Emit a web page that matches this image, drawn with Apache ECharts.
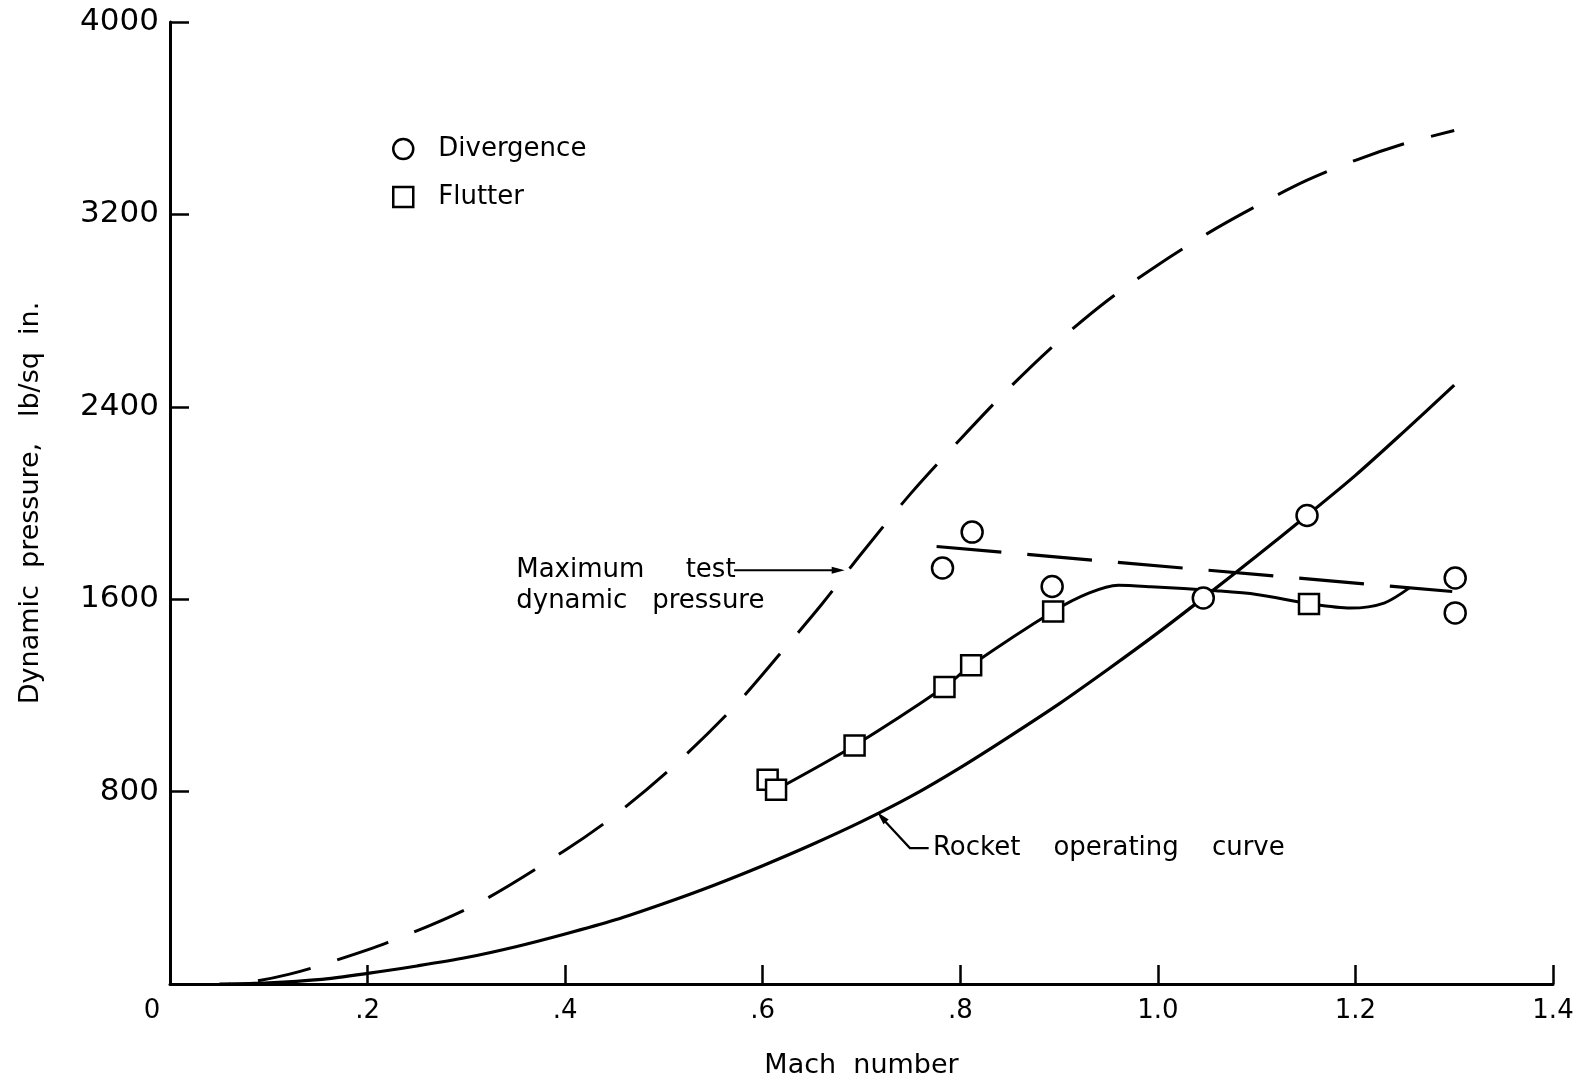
<!DOCTYPE html>
<html><head><meta charset="utf-8">
<script src="https://cdn.jsdelivr.net/npm/echarts@6/dist/echarts.min.js"></script>
<style>html,body{margin:0;padding:0;background:#fff}#c{width:1578px;height:1085px}</style>
</head><body><div id="c"></div>
<script>
// ---- data ----
const xTickLabels = ['0', '.2', '.4', '.6', '.8', '1.0', '1.2', '1.4'];
const yTickLabels = ['', '800', '1600', '2400', '3200', '4000'];

const divergenceMach = [0.782, 0.812, 0.893, 1.046, 1.151, 1.301, 1.301];
const divergenceQ    = [1730, 1879, 1653, 1605, 1948, 1688, 1543];

const flutterMach = [0.605, 0.6135, 0.693, 0.784, 0.811, 0.894, 1.153];
const flutterQ    = [849, 808, 992, 1235, 1325, 1549, 1580];

const maxTestMach = [0.06, 0.086, 0.12, 0.15, 0.22, 0.31, 0.40, 0.45, 0.51, 0.57, 0.62, 0.66, 0.70, 0.75, 0.80, 0.85, 0.90, 0.95, 1.00, 1.05, 1.10, 1.15, 1.20, 1.25, 1.30];
const maxTestQ    = [0, 11, 40, 75, 172, 332, 556, 700, 907, 1148, 1385, 1580, 1790, 2040, 2265, 2480, 2675, 2845, 2990, 3120, 3235, 3340, 3425, 3495, 3549];

const rocketMach = [0.05, 0.1, 0.15, 0.2, 0.25, 0.3, 0.35, 0.4, 0.45, 0.5, 0.55, 0.6, 0.65, 0.7, 0.75, 0.8, 0.85, 0.9, 0.95, 1.0, 1.05, 1.1, 1.15, 1.2, 1.25, 1.3];
const rocketQ    = [0, 5, 18, 44, 75, 110, 155, 208, 266, 335, 410, 492, 580, 675, 780, 900, 1030, 1165, 1310, 1460, 1618, 1780, 1945, 2115, 2300, 2490];

const flutterBoundaryMach = [0.6135, 0.693, 0.784, 0.811, 0.894, 0.93, 0.96, 0.993, 1.059, 1.10, 1.153, 1.195, 1.229, 1.255];
const flutterBoundaryQ    = [808, 992, 1235, 1325, 1549, 1625, 1658, 1652, 1635, 1620, 1582, 1563, 1584, 1648];

const divergenceBoundaryMach = [0.776, 1.298];
const divergenceBoundaryQ    = [1819, 1632];

// ---- chart ----
const FONT = 'DejaVu Sans';
const zip = (a, b) => a.map((v, i) => [v, b[i]]);
const chart = echarts.init(document.getElementById('c'), null, { renderer: 'canvas' });

chart.setOption({
  animation: false,
  backgroundColor: '#fff',
  grid: { left: 170, right: 25, top: 22, bottom: 101, containLabel: false },
  legend: {
    orient: 'vertical', left: 387, top: 131, itemWidth: 20, itemHeight: 20, itemGap: 22,
    selectedMode: false,
    textStyle: { fontFamily: FONT, fontSize: 26, color: '#000', padding: [0, 0, 0, 20] },
    data: [
      { name: 'Divergence', icon: 'circle', itemStyle: { color: '#fff', borderColor: '#000', borderWidth: 2.5 } },
      { name: 'Flutter', icon: 'rect', itemStyle: { color: '#fff', borderColor: '#000', borderWidth: 2.5 } }
    ]
  },
  xAxis: {
    type: 'value', min: 0, max: 1.4, interval: 0.2,
    name: 'Mach  number', nameLocation: 'middle', nameGap: 68,
    nameTextStyle: { fontFamily: FONT, fontSize: 27, color: '#000' },
    axisLine: { lineStyle: { color: '#000', width: 3 } },
    axisTick: { inside: true, length: 19, lineStyle: { color: '#000', width: 2.5 } },
    splitLine: { show: false },
    axisLabel: {
      margin: 14, color: '#000', fontFamily: FONT, fontSize: 26,
      formatter: (v) => {
        const i = Math.round(v / 0.2);
        return i === 0 ? '{z|' + xTickLabels[0] + '}' : xTickLabels[i];
      },
      rich: { z: { fontFamily: FONT, fontSize: 26, color: '#000', padding: [0, 36, 0, 0] } }
    }
  },
  yAxis: {
    type: 'value', min: 0, max: 4000, interval: 800,
    name: 'Dynamic  pressure,   lb/sq  in.', nameLocation: 'middle', nameGap: 126,
    nameTextStyle: { fontFamily: FONT, fontSize: 27, color: '#000' },
    axisLine: { lineStyle: { color: '#000', width: 3 } },
    axisTick: { inside: true, length: 19, lineStyle: { color: '#000', width: 2.5 } },
    splitLine: { show: false },
    axisLabel: {
      margin: 11, color: '#000', fontFamily: FONT, fontSize: 31,
      formatter: (v) => yTickLabels[Math.round(v / 800)]
    }
  },
  series: [
    {
      name: 'Maximum test dynamic pressure', type: 'line', data: zip(maxTestMach, maxTestQ),
      smooth: 0.3, showSymbol: false, symbol: 'none', silent: true, z: 2,
      lineStyle: { color: '#000', width: 3, type: [54, 28], dashOffset: 53 }
    },
    {
      name: 'Rocket operating curve', type: 'line', data: zip(rocketMach, rocketQ),
      smooth: 0.3, showSymbol: false, symbol: 'none', silent: true, z: 2,
      lineStyle: { color: '#000', width: 3.2 }
    },
    {
      name: 'Divergence boundary', type: 'line', data: zip(divergenceBoundaryMach, divergenceBoundaryQ),
      showSymbol: false, symbol: 'none', silent: true, z: 2,
      lineStyle: { color: '#000', width: 3.2, type: [65, 26] }
    },
    {
      name: 'Flutter boundary', type: 'line', data: zip(flutterBoundaryMach, flutterBoundaryQ),
      smooth: 0.3, showSymbol: false, symbol: 'none', silent: true, z: 2,
      lineStyle: { color: '#000', width: 3 }
    },
    {
      name: 'Divergence', type: 'scatter', data: zip(divergenceMach, divergenceQ),
      symbol: 'circle', symbolSize: 21, z: 5,
      itemStyle: { color: '#fff', borderColor: '#000', borderWidth: 2.5, opacity: 1 }
    },
    {
      name: 'Flutter', type: 'scatter', data: zip(flutterMach, flutterQ),
      symbol: 'rect', symbolSize: 20, z: 5,
      itemStyle: { color: '#fff', borderColor: '#000', borderWidth: 2.5, opacity: 1 }
    }
  ]
});

// ---- annotations positioned through the chart's own scales ----
const px = (m, q) => chart.convertToPixel({ gridIndex: 0 }, [m, q]);
function arrowHead(from, to, len, half) {
  const dx = to[0] - from[0], dy = to[1] - from[1];
  const L = Math.hypot(dx, dy), ux = dx / L, uy = dy / L;
  const bx = to[0] - ux * len, by = to[1] - uy * len;
  return { type: 'polygon', silent: true, z: 10,
    shape: { points: [[to[0], to[1]], [bx - uy * half, by + ux * half], [bx + uy * half, by - ux * half]] },
    style: { fill: '#000' } };
}
const txt = (p, s) => ({ type: 'text', x: p[0], y: p[1], silent: true, z: 10,
  style: { text: s, fontFamily: FONT, fontSize: 26, fill: '#000', align: 'left', verticalAlign: 'middle' } });

const a1 = px(0.571, 1720), a2 = px(0.683, 1720);
const r0 = px(0.768, 565), r1 = px(0.749, 565), r2 = px(0.716, 714);
chart.setOption({
  graphic: [
    txt(px(0.3505, 1722), 'Maximum     test'),
    txt(px(0.3505, 1591), 'dynamic   pressure'),
    { type: 'line', silent: true, z: 10, shape: { x1: a1[0], y1: a1[1], x2: a2[0] - 6, y2: a2[1] },
      style: { stroke: '#000', lineWidth: 2 } },
    arrowHead(a1, a2, 13, 3.5),
    txt(px(0.7723, 565), 'Rocket    operating    curve'),
    { type: 'polyline', silent: true, z: 10, shape: { points: [r0, r1, [r2[0] + 3, r2[1] + 4]] },
      style: { stroke: '#000', lineWidth: 2.2, fill: null } },
    arrowHead(r1, r2, 13, 3.5)
  ]
});
</script></body></html>
